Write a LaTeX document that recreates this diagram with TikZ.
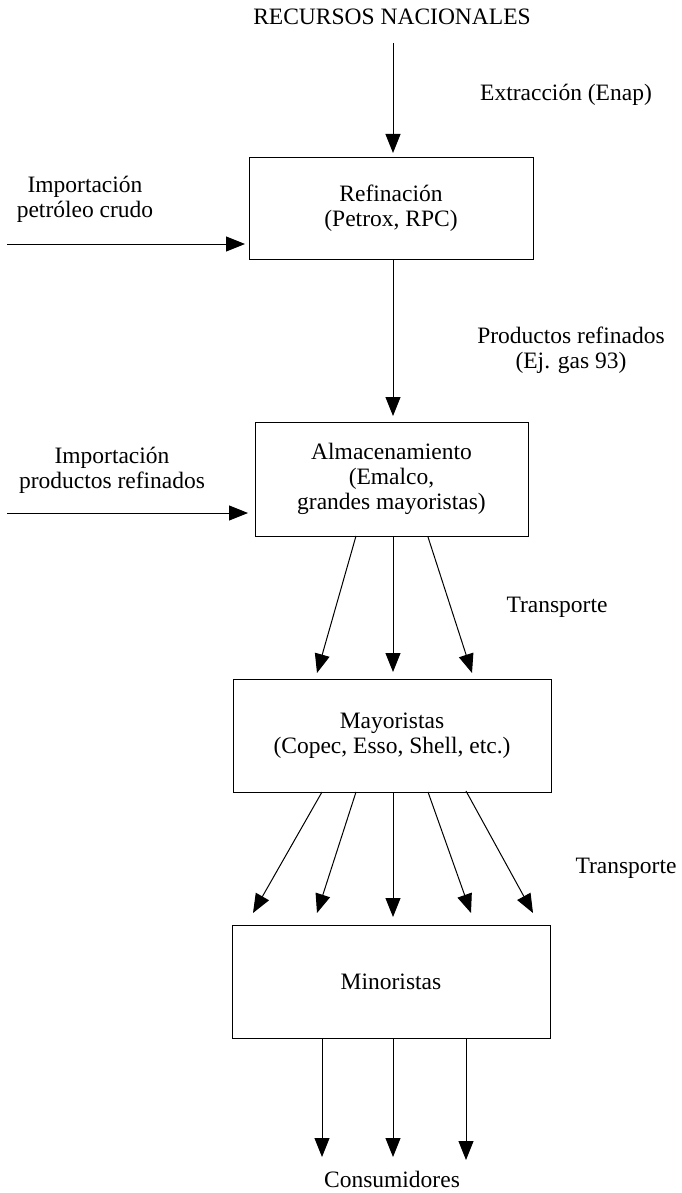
\documentclass[tikz,border=0pt]{standalone}
\usepackage{fontspec}
\setmainfont{Liberation Serif}
\usetikzlibrary{arrows.meta}
\begin{document}
\begin{tikzpicture}[x=1pt,y=-1pt,
  every node/.style={font=\fontsize{23.5}{25}\selectfont, inner sep=0pt, align=center},
  box/.style={draw, line width=1pt},
  arr/.style={line width=1pt, -{Triangle[length=19pt,width=15pt]}}]
\fill[white] (0,0) rectangle (681,1193);
\useasboundingbox (0,0) rectangle (681,1193);

% boxes
\node[box, minimum width=284pt, minimum height=101pt] (ref) at (391,208.5) {Refinación\\(Petrox, RPC)};
\node[box, minimum width=273pt, minimum height=114pt] (alm) at (391.5,479) {Almacenamiento\\(Emalco,\\grandes mayoristas)};
\node[box, minimum width=318pt, minimum height=113pt] (may) at (392,735.5) {Mayoristas\\(Copec, Esso, Shell, etc.)};
\node[box, minimum width=318pt, minimum height=113pt] (min) at (391,981.5) {Minoristas};

% labels
\node (rec) at (392,17) {RECURSOS NACIONALES};
\node (ext) at (566,95) {Extracción (Enap)};
\node (impc) at (85,199) {Importación\\petróleo crudo};
\node (prod) at (571,350) {Productos refinados\\(Ej. gas 93)};
\node (impr) at (112,470) {Importación\\productos refinados};
\node (tr1) at (557,607) {Transporte};
\node (tr2) at (626,868) {Transporte};
\node (cons) at (392,1179) {Consumidores};

% free ends
\coordinate (c1) at (7,244);
\coordinate (c2) at (7,513);
\coordinate (t1) at (245,244);
\coordinate (t2) at (248,513);

% top
\draw[arr] (393,43) -- (393,153);
\draw[arr] (c1) -- (t1);
\draw[arr] (ref.south -| 393,0) -- (393,416);
\draw[arr] (c2) -- (t2);

% almacenamiento -> mayoristas
\draw[arr] (356,536) -- (317,673);
\draw[arr] (393,536) -- (393,672);
\draw[arr] (428,537) -- (472,673);

% mayoristas -> minoristas
\draw[arr] (322,792) -- (253,913);
\draw[arr] (356,792) -- (317,913);
\draw[arr] (393,792) -- (393,917);
\draw[arr] (428,792) -- (471,913);
\draw[arr] (466,791) -- (533,913);

% minoristas -> consumidores
\draw[arr] (322,1038) -- (322,1157);
\draw[arr] (393,1038) -- (393,1157);
\draw[arr] (466,1038) -- (466,1160);
\end{tikzpicture}
\end{document}
